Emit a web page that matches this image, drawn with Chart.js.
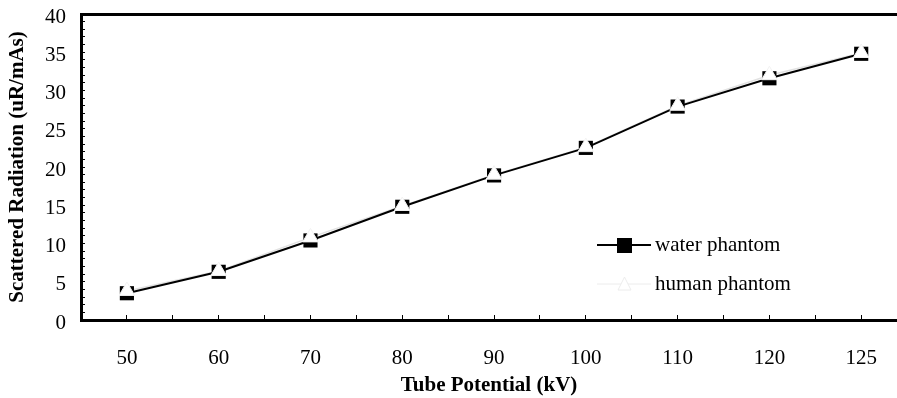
<!DOCTYPE html>
<html>
<head>
<meta charset="utf-8">
<script src="https://cdn.jsdelivr.net/npm/chart.js@4.4.0/dist/chart.umd.min.js"></script>
<style>
  html, body { margin: 0; padding: 0; background: #fff; overflow: hidden; }
  .wrap { position: relative; width: 897px; height: 398px; }
  .legend {
    position: absolute; left: 597px; top: 225px;
    font-family: 'Liberation Serif', 'Times New Roman', serif; font-size: 21px; color: #000;
  }
  .legend .row { display: flex; align-items: center; height: 39px; }
  .legend svg { margin-right: 4px; }
</style>
</head>
<body>
<div class="wrap">
  <canvas id="myChart" width="897" height="398"></canvas>
  <div class="legend">
    <div class="row">
      <svg width="54" height="20"><line x1="0" y1="10" x2="54" y2="10" stroke="#000" stroke-width="2"/><rect x="20" y="3" width="15" height="15" fill="#000"/></svg>
      <span>water phantom</span>
    </div>
    <div class="row">
      <svg width="54" height="20"><line x1="0" y1="10" x2="54" y2="10" stroke="#ececec" stroke-width="1"/><path d="M27.5 3 L34 16 L21 16 Z" fill="#fff" stroke="#ececec"/></svg>
      <span>human phantom</span>
    </div>
  </div>
</div>
<script>
  'use strict';

  const categories = ['50', '60', '70', '80', '90', '100', '110', '120', '125'];
  const waterPhantom = [3.5, 6.3, 10.4, 14.8, 18.9, 22.5, 27.9, 31.6, 34.8];
  const humanPhantom = [3.8, 6.4, 10.8, 14.9, 19.0, 22.6, 28.0, 32.0, 34.9];
  const yTickLabels = [0, 5, 10, 15, 20, 25, 30, 35, 40];

  const serif = 'Liberation Serif';

  const toPoints = function(values){
    return categories.map((c, i) => ({ x: i, y: values[i] }));
  };

  const initChart = function(){
    const ctx = document.getElementById('myChart').getContext('2d');

    // human line sits under the water series, its triangles sit on top
    // eslint-disable-next-line no-undef, no-unused-vars
    const myChart = new Chart(ctx, {
      type: 'line',
      data: {
        datasets: [
          {
            label: 'human phantom',
            data: toPoints(humanPhantom),
            showLine: false,
            pointStyle: 'triangle',
            pointRadius: 9,
            pointBackgroundColor: '#fff',
            pointBorderColor: '#f2f2f2',
            pointBorderWidth: 1,
            order: 1,
          },
          {
            label: 'water phantom',
            data: toPoints(waterPhantom),
            borderColor: '#000',
            borderWidth: 2,
            pointStyle: 'rect',
            pointRadius: 10,
            pointBackgroundColor: '#000',
            pointBorderColor: '#000',
            pointBorderWidth: 0,
            order: 2,
          },
          {
            label: 'human phantom line',
            data: toPoints(humanPhantom),
            borderColor: '#e2e2e2',
            borderWidth: 1.5,
            pointRadius: 0,
            order: 3,
          }
        ]
      },
      options: {
        responsive: false,
        animation: false,
        layout: {
          autoPadding: false,
          padding: { top: 14, left: 0, right: 0, bottom: 0 },
        },
        scales: {
          x: {
            type: 'linear',
            position: 'bottom',
            min: -0.5,
            max: 8.39,
            afterFit: (scale) => {
              scale.height = 78;
              scale.paddingLeft = 0;
              scale.paddingRight = 0;
            },
            ticks: {
              stepSize: 0.5,
              includeBounds: false,
              autoSkip: false,
              maxRotation: 0,
              padding: 31,
              color: '#000',
              font: { family: serif, size: 21 },
              callback: (v) => Number.isInteger(v) ? categories[v] : '',
            },
            grid: { drawOnChartArea: false, tickLength: -5, color: '#000', lineWidth: 1 },
            border: { color: '#000', width: 3 },
            title: {
              display: true,
              text: 'Tube Potential (kV)',
              color: '#000',
              font: { family: serif, size: 21, weight: 'bold' },
              padding: { top: 0, bottom: 0 },
            },
          },
          x2: {
            type: 'linear',
            position: 'top',
            afterFit: (scale) => {
              scale.height = 0;
              scale.paddingLeft = 0;
              scale.paddingRight = 0;
            },
            ticks: { display: false },
            grid: { drawOnChartArea: false, drawTicks: false },
            border: { color: '#000', width: 3 },
          },
          y: {
            min: 0,
            max: 40,
            afterFit: (scale) => {
              scale.width = 81;
              scale.paddingTop = 0;
              scale.paddingBottom = 0;
            },
            ticks: {
              stepSize: 1,
              autoSkip: false,
              padding: 19,
              labelOffset: 3,
              color: '#000',
              font: { family: serif, size: 21 },
              callback: (v) => yTickLabels.includes(v) ? v : '',
            },
            grid: { drawOnChartArea: false, tickLength: -4, color: '#000', lineWidth: 1 },
            border: { color: '#000', width: 3 },
            title: {
              display: true,
              text: 'Scattered Radiation (uR/mAs)',
              color: '#000',
              font: { family: serif, size: 21, weight: 'bold' },
              padding: { top: 5, bottom: 0 },
            },
          }
        },
        plugins: {
          legend: { display: false },
          tooltip: { enabled: false },
        },
      },
    });
  };

  initChart();
</script>
</body>
</html>
